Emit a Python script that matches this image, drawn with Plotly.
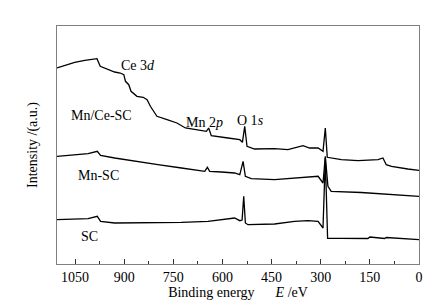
import plotly.graph_objects as go

# Binding energy (eV) and intensity (a.u., offset for display)
mnce_E = [1105, 1076, 1051, 1020, 995, 983, 973, 949, 929, 912, 901, 896, 886, 879, 861, 842, 830, 820, 800,
          769, 739, 713, 675, 649, 642, 634, 583, 547, 539, 532, 525, 502, 441, 400, 354, 334,
          308, 293, 286, 280, 237, 186, 125, 110, 100, 84, 34, 0]
mnce_I = [196, 199.3, 201.7, 203.7, 205, 205.3, 197.7, 194.3, 192, 191, 189.3, 182.7, 179.3, 172.7, 167.7, 166.7,
          164.3, 157.7, 147.7, 144.3, 141, 136, 134.3, 132.7, 136, 128.3, 126, 124.3, 121.7, 137.7, 117.7, 115,
          115.3, 114.3, 118.3, 116, 116, 112.7, 136, 106.7, 104.3, 103.3, 104.3, 106, 99.3, 97.7, 95, 93.7]

mn_E = [1105, 1051, 1010, 982, 972, 929, 868, 797, 725, 654, 646, 639, 603, 563, 547, 537, 530, 512, 441, 400, 308,
        293, 286, 278, 268, 176, 0]
mn_I = [107.7, 109.3, 110.3, 112.7, 108.7, 106, 102.7, 99.3, 96, 92.7, 96.7, 92.7, 92, 91, 89.3, 102.7, 87.7, 85.3,
        84.3, 85.3, 87.7, 81, 107.7, 77.7, 72.7, 71.5, 67.7]

sc_E = [1105, 1010, 982, 972, 929, 868, 797, 725, 644, 563, 547, 540, 535, 530, 522, 441, 380, 339, 308, 293,
        286, 279, 240, 156, 150, 105, 100, 0]
sc_I = [44.3, 45.3, 47.7, 42.7, 41, 41, 41.7, 41.7, 42.7, 46, 43.3, 44, 67.7, 41, 39.3, 40, 42.7, 43.3, 42.7,
        36, 106, 25.7, 25.7, 25.5, 27, 25.5, 26.5, 24.3]

fig = go.Figure()
for E, I in [(mnce_E, mnce_I), (mn_E, mn_I), (sc_E, sc_I)]:
    fig.add_trace(go.Scatter(x=E, y=I, mode="lines", line=dict(color="black", width=1.3),
                             showlegend=False, hoverinfo="skip"))

font = dict(family="Liberation Serif", size=14, color="black")

labels = [
    ("Ce 3<i>d</i>", 858, 199),
    ("Mn/Ce-SC", 968, 149),
    ("Mn 2<i>p</i>", 655, 142),
    ("O 1<i>s</i>", 513, 144),
    ("Mn-SC", 977, 89),
    ("SC", 1007, 28),
]
for txt, x, y in labels:
    fig.add_annotation(x=x, y=y, text=txt, showarrow=False, font=font, xanchor="center", yanchor="middle")

fig.update_layout(
    width=447, height=307,
    margin=dict(l=49, r=36, t=18, b=51),
    paper_bgcolor="white", plot_bgcolor="white",
    font=font,
    xaxis=dict(
        range=[1105, 0], tick0=0, dtick=150, ticks="inside", ticklen=5, tickwidth=1, tickcolor="#333",
        minor=dict(dtick=75, ticks="inside", ticklen=3, tickcolor="#333"),
        showline=True, linecolor="#808080", linewidth=1, mirror=True, showgrid=False, zeroline=False,
        tickfont=font, automargin=False,
        title=dict(text="Binding energy\u00a0\u00a0\u00a0\u00a0\u00a0\u00a0<i>E</i> /eV", font=font, standoff=2),
    ),
    yaxis=dict(
        range=[0, 238], showticklabels=False, ticks="", showline=True, linecolor="#808080", linewidth=1,
        mirror=True, showgrid=False, zeroline=False, automargin=False,
        title=dict(text="Intensity /(a.u.)", font=font, standoff=15),
    ),
)

fig.write_html("out.html")
